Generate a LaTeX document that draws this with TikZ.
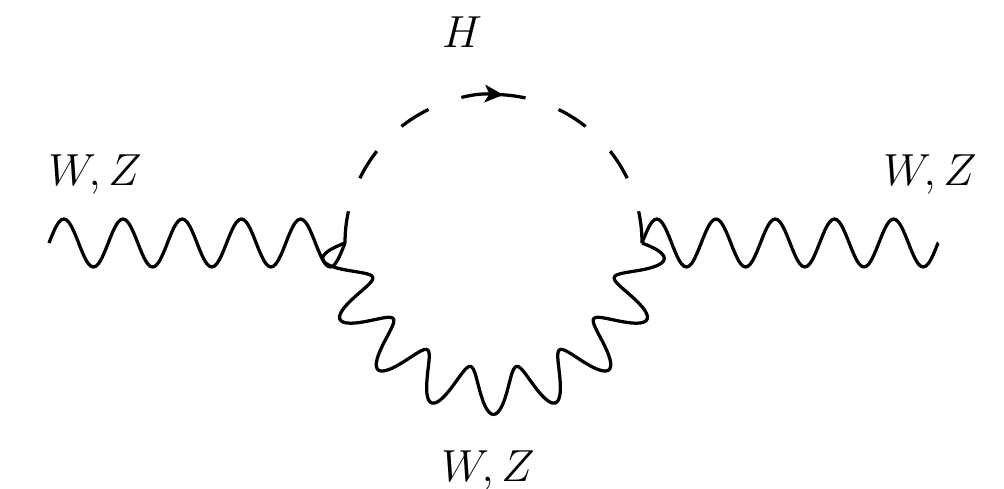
\documentclass[tikz,border=0pt]{standalone}
\usepackage{amsmath}
\usetikzlibrary{arrows.meta}

\begin{document}
\begin{tikzpicture}[
  x=0.4pt, y=0.4pt,
  every node/.style={inner sep=0pt, font=\LARGE, anchor=base, scale=1.04},
  line/.style={line width=1.3pt, line join=round},
  higgs/.style={line, dash pattern=on 12.8pt off 14pt}
]
\useasboundingbox (0,0) rectangle (1004,488);
\coordinate (in) at (49,245);
\coordinate (vl) at (345,245);
\coordinate (vr) at (642,245);
\coordinate (out) at (938,245);
\coordinate (loopc) at (493.5,245);

\node (wzin) at (95,303) {$W,Z$};
\node (wzout) at (930,303) {$W,Z$};
\node (h) at (462,441) {$H$};
\node (wzloop) at (488,7) {$W,Z$};

\draw[line] (in) -- plot[shift={(in)}, domain=0:296, samples=121, smooth]
  ({\x}, {24*sin(6.0811*\x)}) -- (vl);
\draw[line] (vr) -- plot[shift={(vr)}, domain=0:296, samples=121, smooth]
  ({\x}, {24*sin(6.0811*\x)}) -- (out);
\draw[higgs, -{Stealth[length=7.4pt, width=7pt, inset=1.8pt]}] (vl) arc[start angle=180, end angle=86.2, radius=148.5];
\draw[higgs] (vr) arc[start angle=0, end angle=90, radius=148.5];
\draw[line] (vl) -- plot[shift={(loopc)}, domain=-90:90, samples=241, smooth]
  ({(148.5+23*cos(17*\x))*sin(\x)}, {-(148.5+23*cos(17*\x))*cos(\x)}) -- (vr);
\end{tikzpicture}
\end{document}
